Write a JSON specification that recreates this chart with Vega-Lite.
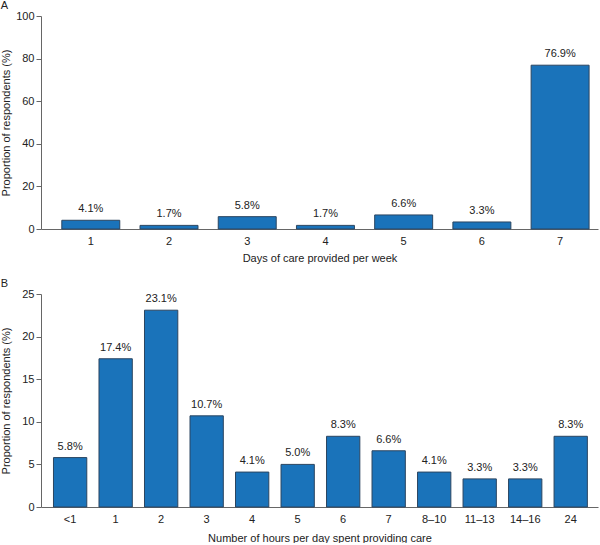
{
  "$schema": "https://vega.github.io/schema/vega-lite/v6.json",
  "padding": {"left": 0, "top": 0, "right": 1, "bottom": 0},
  "spacing": 15,
  "config": {
    "font": "Liberation Sans",
    "view": {"stroke": null},
    "axis": {"labelFont": "Liberation Sans", "titleFont": "Liberation Sans", "labelFontSize": 11, "titleFontSize": 11, "titleFontWeight": "normal", "labelColor": "#222", "titleColor": "#222", "domainColor": "#666", "tickColor": "#666", "grid": false},
    "title": {"font": "Liberation Sans", "fontSize": 11, "fontWeight": "normal", "anchor": "start", "frame": "bounds", "color": "#222", "offset": -1, "dx": 0}
  },
  "vconcat": [
    {
      "title": "A",
      "width": 557,
      "height": 213,
      "data": {"values": [
        {"day": "1", "pct": 4.1, "label": "4.1%"}, {"day": "2", "pct": 1.7, "label": "1.7%"}, {"day": "3", "pct": 5.8, "label": "5.8%"},
        {"day": "4", "pct": 1.7, "label": "1.7%"}, {"day": "5", "pct": 6.6, "label": "6.6%"}, {"day": "6", "pct": 3.3, "label": "3.3%"},
        {"day": "7", "pct": 76.9, "label": "76.9%"}
      ]},
      "encoding": {
        "x": {"field": "day", "type": "nominal", "sort": null, "scale": {"paddingInner": 0.259, "paddingOuter": 0.19, "align": 0.7},
          "axis": {"title": "Days of care provided per week", "labelAngle": 0, "ticks": false, "labelPadding": 6, "titlePadding": 6}},
        "y": {"field": "pct", "type": "quantitative", "scale": {"domain": [0, 100]},
          "axis": {"title": "Proportion of respondents (%)", "values": [0, 20, 40, 60, 80, 100], "tickSize": 5, "labelPadding": 2, "titlePadding": 4}}
      },
      "layer": [
        {"mark": {"type": "bar", "color": "#1a73ba", "stroke": "#2b4560", "strokeWidth": 1}},
        {"mark": {"type": "text", "dy": -11, "fontSize": 11, "color": "#222"},
         "encoding": {"text": {"field": "label", "type": "nominal"}}}
      ]
    },
    {
      "title": "B",
      "width": 557,
      "height": 213,
      "data": {"values": [
        {"hours": "<1", "pct": 5.8, "label": "5.8%"}, {"hours": "1", "pct": 17.4, "label": "17.4%"}, {"hours": "2", "pct": 23.1, "label": "23.1%"},
        {"hours": "3", "pct": 10.7, "label": "10.7%"}, {"hours": "4", "pct": 4.1, "label": "4.1%"}, {"hours": "5", "pct": 5.0, "label": "5.0%"},
        {"hours": "6", "pct": 8.3, "label": "8.3%"}, {"hours": "7", "pct": 6.6, "label": "6.6%"}, {"hours": "8–10", "pct": 4.1, "label": "4.1%"},
        {"hours": "11–13", "pct": 3.3, "label": "3.3%"}, {"hours": "14–16", "pct": 3.3, "label": "3.3%"}, {"hours": "24", "pct": 8.3, "label": "8.3%"}
      ]},
      "encoding": {
        "x": {"field": "hours", "type": "nominal", "sort": null, "scale": {"paddingInner": 0.268, "paddingOuter": 0.254, "align": 0.54},
          "axis": {"title": "Number of hours per day spent providing care", "labelAngle": 0, "ticks": false, "labelPadding": 6, "titlePadding": 8}},
        "y": {"field": "pct", "type": "quantitative", "scale": {"domain": [0, 25]},
          "axis": {"title": "Proportion of respondents (%)", "values": [0, 5, 10, 15, 20, 25], "tickSize": 5, "labelPadding": 2, "titlePadding": 10}}
      },
      "layer": [
        {"mark": {"type": "bar", "color": "#1a73ba", "stroke": "#2b4560", "strokeWidth": 1}},
        {"mark": {"type": "text", "dy": -11, "fontSize": 11, "color": "#222"},
         "encoding": {"text": {"field": "label", "type": "nominal"}}}
      ]
    }
  ]
}
